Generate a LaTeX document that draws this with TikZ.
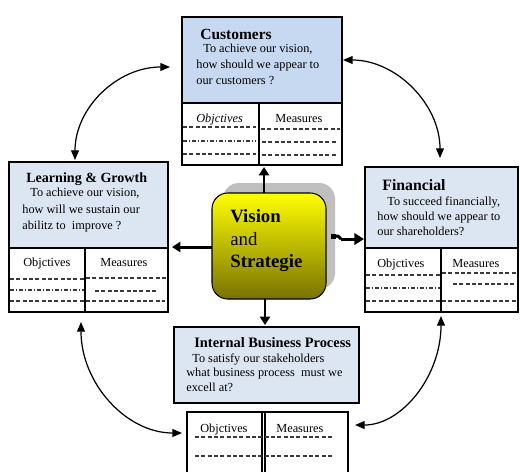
\documentclass[tikz,border=0pt]{standalone}
\usepackage{fontspec}
\setmainfont{Liberation Serif}
\usetikzlibrary{arrows.meta,calc,fit}
\definecolor{custblue}{HTML}{C6D9F1}
\definecolor{lblue}{HTML}{DCE6F2}
\definecolor{ytop}{HTML}{FFFF00}
\definecolor{ymid}{HTML}{DEDA00}
\definecolor{ybot}{HTML}{787200}
\definecolor{dashc}{HTML}{3A3A3A}
\begin{document}
\begin{tikzpicture}[x=0.02cm, y=-0.02cm,
  box/.style={draw, line width=0.6pt, inner sep=0pt, outer sep=0pt},
  txt/.style={anchor=base west, inner sep=0pt, font=\fontsize{7}{8.5}\selectfont},
  ttl/.style={anchor=base west, inner sep=0pt, font=\fontsize{8.6}{10}\selectfont\bfseries},
  vtx/.style={anchor=base west, inner sep=0pt, font=\fontsize{10.7}{13}\selectfont},
  dl/.style={line width=0.6pt, dashc, dash pattern=on 2.3pt off 1.3pt},
  ddl/.style={line width=0.6pt, dashc, dash pattern=on 2.2pt off 1.1pt on 0.7pt off 1.1pt},
  bigline/.style={line width=1.7pt, line join=round},
  bigarrow/.style={bigline, -{Triangle[length=4.8pt,width=5.8pt]}},
  curvearrow/.style={line width=0.7pt, {Triangle[length=5.5pt,width=4.5pt]}-{Triangle[length=5.5pt,width=4.5pt]}}
]
\useasboundingbox (0,0) rectangle (520,471);
\fill[white] (0,0) rectangle (520,471);

% ---------- Customers ----------
\node[box, fill=custblue, fit={(182,17) (342,103)}] (cust) {};
\node[box, fit={(182,103) (342,165)}] (custtab) {};
\draw[line width=0.6pt] (259,103) -- (259,165);
\node[ttl, font=\fontsize{8.8}{10}\selectfont\bfseries] (c0) at (200,39) {Customers};
\node[txt] (c1) at (203,52) {To achieve our vision,};
\node[txt] (c2) at (196,68) {how should we appear to};
\node[txt] (c3) at (196,84) {our customers ?};
\node[txt, font=\fontsize{7}{8.5}\selectfont\itshape] (c4) at (196,122) {Objctives};
\node[txt] (c5) at (275,122) {Measures};
\draw[dl]  (183,127) -- (256,127);
\draw[ddl] (183,141) -- (256,141);
\draw[dl]  (183,154) -- (256,154);
\draw[dl]  (261,129) -- (340,129);
\draw[dl]  (262,142) -- (337,142);
\draw[dl]  (262,155) -- (337,155);

% ---------- Learning & Growth ----------
\node[box, fill=lblue, fit={(9,162) (168,248)}] (lg) {};
\node[box, fit={(9,248) (168,312)}] (lgtab) {};
\draw[line width=0.6pt] (85,248) -- (85,312);
\node[ttl, font=\fontsize{8}{10}\selectfont\bfseries] (l0) at (26,182) {Learning \& Growth};
\node[txt] (l1) at (30,196) {To achieve our vision,};
\node[txt] (l2) at (22,213) {how will we sustain our};
\node[txt] (l3) at (22,229) {abilitz to\ \ improve ?};
\node[txt] (l4) at (23,266) {Objctives};
\node[txt] (l5) at (100,266) {Measures};
\draw[dl]  (10,279) -- (84,279);
\draw[ddl] (10,290) -- (84,290);
\draw[dl]  (10,301) -- (84,301);
\draw[dl]  (86,278) -- (167,278);
\draw[dl]  (95,291) -- (158,291);
\draw[dl]  (86,301) -- (165,301);

% ---------- Financial ----------
\node[box, fill=lblue, fit={(365,167) (518,248)}] (fin) {};
\node[box, fit={(365,248) (518,312)}] (fintab) {};
\draw[line width=0.6pt] (441,248) -- (441,312);
\node[ttl, font=\fontsize{9}{10}\selectfont\bfseries] (f0) at (382,190) {Financial};
\node[txt] (f1) at (387,205) {To succeed financially,};
\node[txt] (f2) at (377,220) {how should we appear to};
\node[txt] (f3) at (377,235) {our shareholders?};
\node[txt] (f4) at (377,267) {Objctives};
\node[txt] (f5) at (452,267) {Measures};
\draw[dl]  (366,275) -- (440,275);
\draw[ddl] (366,288) -- (440,288);
\draw[dl]  (366,301) -- (440,301);
\draw[dl]  (442,273) -- (517,273);
\draw[dl]  (453,284) -- (514,284);
\draw[dl]  (442,301) -- (517,301);

% ---------- Internal Business Process ----------
\node[box, fill=lblue, fit={(174,327) (359,403)}] (ibp) {};
\node[box, fit={(187,412) (348,480)}] (ibptab) {};
\draw[line width=0.6pt] (262,412) -- (262,480);
\draw[line width=0.6pt] (265,412) -- (265,480);
\node[ttl, font=\fontsize{8.2}{10}\selectfont\bfseries] (i0) at (194,347) {Internal Business Process};
\node[txt] (i1) at (192,362) {To satisfy our stakeholders};
\node[txt] (i2) at (186,376) {what business process\ \ must we};
\node[txt] (i3) at (186,391) {excell at?};
\node[txt] (i4) at (200,432) {Objctives};
\node[txt] (i5) at (276,432) {Measures};
\draw[dl] (195,437) -- (333,437);
\draw[dl] (195,456) -- (333,456);

% ---------- Vision and Strategie ----------
\node[inner sep=0pt, fill=gray!50, rounded corners=9pt, fit={(223,183) (335,289)}] (shad) {};
\node[box, rounded corners=9pt, top color=ytop, middle color=ymid, bottom color=ybot,
      fit={(212,193) (326,299)}] (vis) {};
\node[vtx, font=\fontsize{10.7}{13}\selectfont\bfseries] (v1) at (230,222) {Vision};
\node[vtx] (v2) at (230,245) {and};
\node[vtx, font=\fontsize{10.7}{13}\selectfont\bfseries] (v3) at (230,267) {Strategie};

% ---------- thick arrows ----------
\draw[bigarrow] ($(vis.north)+(-5,0)$) -- ($(vis.north |- custtab.south)+(-5,2)$);
\draw[bigarrow] ($(vis.south)+(-4,0)$) -- ($(vis.south |- ibp.north)+(-4,-2)$);
\draw[bigarrow] ($(vis.west)+(0,1)$) -- ($(vis.west -| lg.east)+(4,1)$);
\coordinate (r1) at ($(vis.east)+(7,-10)$);
\coordinate (r2) at ($(r1)+(8,3)$);
\coordinate (r3) at ($(r2 -| fin.west)+(-1,0)$);
\fill ($(r1)+(-2.5,-2.5)$) rectangle ($(r1)+(2.5,2.5)$);
\draw[bigline] (r1) -- ++(5,0) -- (r2);
\draw[bigline, -{Triangle[length=5.5pt,width=6.5pt]}] (r2) -- (r3);

% ---------- curved arrows ----------
\coordinate (a1) at ($(cust.west)+(-12,7)$);
\coordinate (a2) at ($(lg.north)+(-13.5,-2)$);
\draw[curvearrow] (a1) .. controls (117,67) and (75,108) .. (a2);
\coordinate (b1) at ($(cust.east)+(1,0)$);
\coordinate (b2) at ($(fin.north)+(-1.5,-9)$);
\draw[curvearrow] (b1) .. controls (396,60) and (440,104) .. (b2);
\coordinate (d1) at ($(lgtab.south)+(-7.5,10)$);
\coordinate (d2) at ($(ibptab.west)+(-5,-13)$);
\draw[curvearrow] (d1) .. controls (81,383) and (126,433) .. (d2);
\coordinate (e1) at ($(fintab.south)+(-0.5,4)$);
\coordinate (e2) at ($(ibptab.east)+(7,-21)$);
\draw[curvearrow] (e1) .. controls (441,376) and (402,425) .. (e2);
\end{tikzpicture}
\end{document}
